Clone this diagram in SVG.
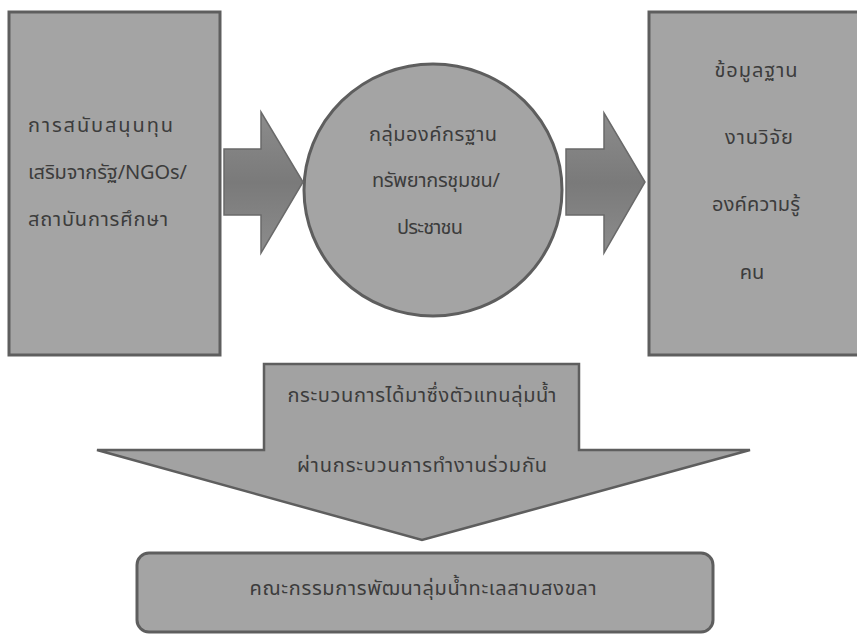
<svg xmlns="http://www.w3.org/2000/svg" width="857" height="635" viewBox="0 0 857 635">
<defs>
<style>
.box{fill:#a4a4a4;stroke:#5e5e5e;stroke-width:3}
.arrow{fill:url(#ag);stroke:#6a6a6a;stroke-width:1.5}
.big{fill:#a2a2a2;stroke:#5e5e5e;stroke-width:2.5}
text{font-family:"Noto Sans Thai","Noto Sans","DejaVu Sans",sans-serif;font-size:20px;fill:#3c3c3c}
.c{text-anchor:middle}
</style>
<linearGradient id="ag" x1="0" y1="0" x2="0" y2="1">
<stop offset="0" stop-color="#8c8c8c"/>
<stop offset="0.5" stop-color="#7a7a7a"/>
<stop offset="1" stop-color="#8c8c8c"/>
</linearGradient>
</defs>
<rect width="857" height="635" fill="#ffffff"/>
<g id="node-left">
<rect class="box" x="9" y="12" width="211" height="343"/>
<text x="28" y="132" textLength="145">การสนับสนุนทุน</text>
<text x="28" y="179" textLength="159">เสริมจากรัฐ/NGOs/</text>
<text x="28" y="226" textLength="140">สถาบันการศึกษา</text>
</g>
<g id="node-circle">
<ellipse class="box" cx="433" cy="190" rx="129" ry="126"/>
<text class="c" x="433" y="141" textLength="128">กลุ่มองค์กรฐาน</text>
<text class="c" x="436" y="187" textLength="128">ทรัพยากรชุมชน/</text>
<text class="c" x="430" y="234" textLength="66">ประชาชน</text>
</g>
<g id="node-right">
<rect class="box" x="649" y="12" width="212" height="343"/>
<text class="c" x="756" y="77" textLength="83">ข้อมูลฐาน</text>
<text class="c" x="759" y="144" textLength="68">งานวิจัย</text>
<text class="c" x="756" y="211" textLength="88">องค์ความรู้</text>
<text class="c" x="752" y="279">คน</text>
</g>
<g id="connectors">
<polygon class="arrow" points="224,149 261,149 261,112 303,182 261,253 261,215 224,215"/>
<polygon class="arrow" points="566,149 604,149 604,113 645,182 604,253 604,215 566,215"/>
</g>
<g id="node-down-arrow">
<polygon class="big" points="264,364 579,364 579,450 750,450 422,540 97,450 264,450"/>
<text class="c" x="422" y="402" textLength="269">กระบวนการได้มาซึ่งตัวแทนลุ่มน้ำ</text>
<text class="c" x="422" y="472" textLength="250">ผ่านกระบวนการทำงานร่วมกัน</text>
</g>
<g id="node-committee">
<rect class="box" x="137" y="553" width="576" height="79" rx="12"/>
<text class="c" x="423" y="595" textLength="347">คณะกรรมการพัฒนาลุ่มน้ำทะเลสาบสงขลา</text>
</g>
</svg>
